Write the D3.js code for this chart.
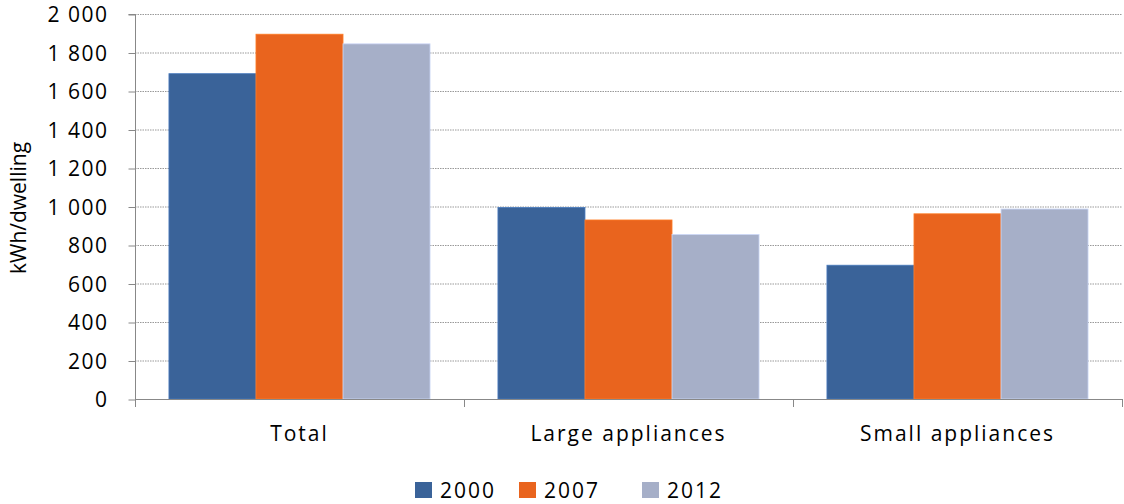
<!DOCTYPE html>
<html><head><meta charset="utf-8">
<script src="https://cdn.jsdelivr.net/npm/d3@7"></script>
<style>body{margin:0;background:#fff;} svg{display:block;}</style>
</head><body>
<svg id="c" width="1124" height="504"></svg>
<script>
const categories = ["Total", "Large appliances", "Small appliances"];
const seriesNames = ["2000", "2007", "2012"];
const values2000 = [1690, 995, 695];
const values2007 = [1895, 930, 962];
const values2012 = [1845, 855, 987];
const yTicks = [0, 200, 400, 600, 800, 1000, 1200, 1400, 1600, 1800, 2000];
const colors = ["#3A6399", "#E9641E", "#A6AFC8"];

const series = [values2000, values2007, values2012];
const svg = d3.select("#c");
const m = {l: 135, r: 2, t: 14, b: 105};
const W = 1124, H = 504;
const FONT = "Open Sans, Lato, sans-serif";
const x = d3.scaleBand().domain(categories).range([m.l, W - m.r]).paddingInner(0).paddingOuter(0);
const xs = d3.scaleBand().domain(seriesNames).range([0, x.bandwidth()]).paddingInner(0).paddingOuter(0.39);
const y = d3.scaleLinear().domain([0, 2000]).range([H - m.b, m.t]);
const fmt = v => d3.format(",")(v).replace(",", " ");

// gridlines
svg.append("g").selectAll("line").data(yTicks.filter(d => d > 0)).join("line")
  .attr("x1", m.l).attr("x2", W - m.r)
  .attr("y1", d => y(d) + 0.5).attr("y2", d => y(d) + 0.5)
  .attr("stroke", "#999").attr("stroke-dasharray", "1.5,1");

// bars
const g = svg.append("g");
categories.forEach((c, i) => {
  seriesNames.forEach((s, j) => {
    g.append("rect")
      .attr("x", x(c) + xs(s)).attr("width", xs.bandwidth())
      .attr("y", y(series[j][i])).attr("height", y(0) - y(series[j][i]))
      .attr("fill", colors[j]).attr("stroke", d3.color(colors[j]).brighter(0.6)).attr("stroke-width", 0.8);
  });
});

// y axis
const ya = svg.append("g").attr("transform", `translate(${m.l + 0.5},0)`)
  .call(d3.axisLeft(y).tickValues(yTicks).tickFormat(fmt).tickSize(7).tickPadding(20));
ya.select(".domain").attr("stroke", "#888").attr("d", `M-7,${y(2000)+0.5}H0V${y(0)+7}`);
ya.selectAll(".tick line").attr("stroke", "#888").attr("transform", "translate(0,0.5)");
ya.selectAll("text").attr("font-family", FONT).attr("font-size", 21).attr("letter-spacing", 1.5).attr("fill", "#000").attr("dy", "0.36em");

// x axis
const xa = svg.append("g").attr("transform", `translate(0,${y(0) + 0.5})`)
  .call(d3.axisBottom(x).tickSize(0).tickPadding(27));
xa.select(".domain").attr("stroke", "#888").attr("d", `M${m.l},0H${W - m.r}`);
xa.selectAll("text").attr("font-family", FONT).attr("font-size", 21).attr("letter-spacing", 2).attr("fill", "#000");
svg.append("g").selectAll("line").data(categories.concat(["end"])).join("line")
  .attr("x1", (d, i) => Math.round(m.l + i * x.bandwidth()) + 0.5)
  .attr("x2", (d, i) => Math.round(m.l + i * x.bandwidth()) + 0.5)
  .attr("y1", y(0)).attr("y2", y(0) + 8).attr("stroke", "#888");

// y title
svg.append("text").attr("transform", `translate(26,208) rotate(-90)`)
  .attr("text-anchor", "middle").attr("font-family", FONT).attr("font-size", 21)
  .text("kWh/dwelling");

// legend
const leg = svg.append("g").attr("transform", "translate(415,482)");
const legX = [0, 104, 227];
seriesNames.forEach((s, j) => {
  leg.append("rect").attr("x", legX[j]).attr("y", 0).attr("width", 17).attr("height", 16).attr("fill", colors[j]);
  leg.append("text").attr("x", legX[j] + 25).attr("y", 16).attr("font-family", FONT)
    .attr("font-size", 21).attr("letter-spacing", 2).text(s);
});
</script>
</body></html>
